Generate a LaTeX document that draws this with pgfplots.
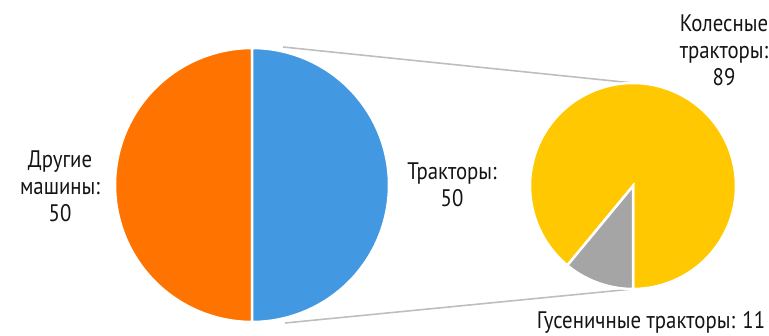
\documentclass[border=0pt]{standalone}
\usepackage{pgfplots}
\pgfplotsset{compat=1.18}
\usepackage{fontspec}
\setmainfont[FakeStretch=0.87]{PT Sans}
\definecolor{cOrange}{RGB}{255,115,0}
\definecolor{cBlue}{RGB}{66,153,225}
\definecolor{cYellow}{RGB}{255,200,0}
\definecolor{cGrey}{RGB}{165,165,165}
\definecolor{cLine}{RGB}{190,190,190}
\tikzset{lbl/.style={font=\fontsize{24}{27}\selectfont, align=center, text=black!92, inner sep=0pt}}
% data
\def\Other{50}
\def\Tractors{50}
\def\Wheeled{89}
\def\Tracked{11}
\begin{document}
\begin{tikzpicture}
\pgfmathsetmacro\aOther{360*(\Other/(\Other+\Tractors))}
\pgfmathsetmacro\aTracked{360*(\Tracked/(\Wheeled+\Tracked))}
\pgfmathsetmacro\aSplit{270-\aTracked}
\pgfmathsetmacro\aOtherEnd{90+\aOther}
\begin{axis}[
  scale only axis, width=769bp, height=336bp,
  xmin=0, xmax=769, ymin=0, ymax=336,
  hide axis, clip=false,
]
\path (axis cs:0,0) rectangle (axis cs:769,336);
% connector lines
\addplot[cLine, line width=1.6bp] coordinates {(283,289) (633,253)};
\addplot[cLine, line width=1.6bp] coordinates {(285,13) (633,47)};
% big pie
\addplot[fill=cOrange, draw=white, line width=2.5bp, domain=90:\aOtherEnd, samples=120, variable=\t]
  ({252+137*cos(t)},{151+137*sin(t)}) -- (axis cs:252,151) -- cycle;
\addplot[fill=cBlue, draw=white, line width=2.5bp, domain=\aOtherEnd:450, samples=120, variable=\t]
  ({252+137*cos(t)},{151+137*sin(t)}) -- (axis cs:252,151) -- cycle;
% small pie
\addplot[fill=cYellow, draw=white, line width=2.5bp, domain=-90:\aSplit, samples=150, variable=\t]
  ({633+103*cos(t)},{150+103*sin(t)}) -- (axis cs:633,150) -- cycle;
\addplot[fill=cGrey, draw=white, line width=2.5bp, domain=\aSplit:270, samples=40, variable=\t]
  ({633+103*cos(t)},{150+103*sin(t)}) -- (axis cs:633,150) -- cycle;
% labels
\node[lbl] at (axis cs:60,150) {Другие\\машины:\\50};
\node[lbl] at (axis cs:452,151) {Тракторы:\\50};
\node[lbl] at (axis cs:724,286) {Колесные\\тракторы:\\89};
\node[lbl] at (axis cs:651,14) {Гусеничные тракторы: 11};
\end{axis}
\end{tikzpicture}
\end{document}
